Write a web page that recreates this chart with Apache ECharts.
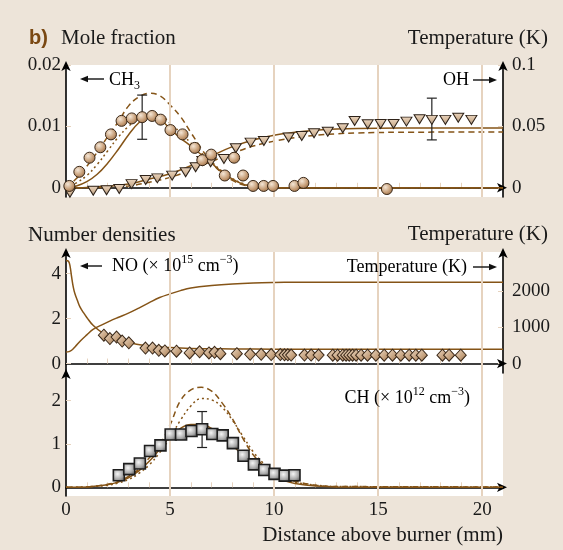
<!DOCTYPE html>
<html><head><meta charset="utf-8">
<script src="https://cdn.jsdelivr.net/npm/echarts@6/dist/echarts.min.js"></script>
<style>html,body{margin:0;padding:0;background:#ede4d9;}#c{width:563px;height:550px;}</style>
</head><body><div id="c"></div>
<script>
// ---------- Panel 1: mole fractions ----------
const ch3X = [0.16,0.64,1.13,1.65,2.16,2.67,3.16,3.66,4.14,4.55,5.02,5.6,6.19,6.55,6.98,7.63,8.08,8.51,8.99,9.5,9.95,10.98,11.41,15.42];
const ch3Y = [0.0003,0.0026,0.0049,0.0066,0.0087,0.0109,0.0113,0.0115,0.0117,0.0111,0.0094,0.0087,0.0065,0.0045,0.0054,0.0020,0.0049,0.0020,0.0003,0.0003,0.0003,0.0003,0.0008,-0.0002];
const ch3Err = [[3.66,0.0079,0.0151]];
const ohX = [0.19,1.31,1.95,2.56,3.15,3.83,4.39,5.10,5.75,6.23,6.55,6.95,7.59,8.16,8.87,9.51,10.7,11.33,11.92,12.58,13.3,13.87,14.5,15.12,15.74,16.36,16.99,17.58,18.23,18.85,19.48];
const ohY = [-0.004,-0.0024,-0.002,-0.001,0.003,0.0064,0.0077,0.0099,0.0126,0.0167,0.0218,0.0208,0.0235,0.0322,0.0368,0.0381,0.041,0.0422,0.0444,0.0457,0.0485,0.0544,0.0517,0.052,0.052,0.0539,0.0558,0.0553,0.0553,0.0571,0.0553];
const ohErr = [[17.58,0.039,0.073]];
const ch3CurveX = [0,0.5,1,1.5,2,2.5,3,3.5,4,4.5,5,5.5,6,6.5,7,7.5,8,8.5,9,10,21];
const ch3Dashed = [0,0.0015,0.0035,0.0058,0.0083,0.0107,0.0133,0.0148,0.0154,0.0150,0.0135,0.0116,0.0090,0.0064,0.0041,0.0024,0.0012,0.0005,0.0002,0,0];
const ch3Dotted = [0,0.0008,0.0020,0.0038,0.0060,0.0082,0.0100,0.0112,0.0118,0.0118,0.0105,0.0090,0.0073,0.0057,0.0042,0.0027,0.0015,0.0007,0.0002,0,0];
const ch3Solid  = [0,0.0003,0.0010,0.0022,0.0040,0.0062,0.0086,0.0106,0.0116,0.0112,0.0096,0.0081,0.0068,0.0054,0.0040,0.0025,0.0014,0.0006,0.0002,0,0];
const ohCurveX = [0,1,2,3,4,5,6,7,8,9,10,11,12,13,14,16,21];
const ohSolid  = [0,0.0003,0.0012,0.0030,0.0072,0.0115,0.0180,0.0260,0.0335,0.0390,0.0428,0.0452,0.0468,0.0478,0.0483,0.0486,0.0487];
const ohDashed = [0,0.0001,0.0005,0.0015,0.0045,0.0085,0.0145,0.0215,0.0280,0.0340,0.0380,0.0408,0.0427,0.0440,0.0447,0.0452,0.0455];

// ---------- Panel 2: NO and temperature ----------
const noX = [1.82,2.11,2.43,2.7,3.02,3.82,4.16,4.46,4.75,5.31,5.94,6.42,6.87,7.14,7.42,8.21,8.85,9.38,9.86,10.3,10.5,10.66,10.82,11.46,11.78,12.14,12.82,13.05,13.3,13.46,13.61,13.77,13.94,14.18,14.49,14.89,15.29,15.69,16.09,16.49,16.81,17.1,18.09,18.41,18.97];
const noY = [1.26,1.11,1.18,1.0,0.92,0.69,0.69,0.59,0.56,0.55,0.47,0.52,0.47,0.50,0.44,0.44,0.41,0.41,0.40,0.40,0.39,0.39,0.38,0.38,0.38,0.38,0.37,0.37,0.37,0.37,0.37,0.37,0.37,0.37,0.37,0.37,0.37,0.37,0.37,0.37,0.37,0.37,0.37,0.37,0.37];
const noCurveX = [0,0.12,0.2,0.27,0.35,0.43,0.55,0.67,0.85,1.0,1.3,1.8,2.3,2.9,3.7,5,6,8,10,21];
const noCurve  = [4.58,4.55,4.3,3.85,3.4,3.1,2.8,2.52,2.25,2.05,1.7,1.33,1.12,0.96,0.81,0.71,0.67,0.65,0.64,0.64];
const tX = [0,0.15,0.3,0.45,0.7,1,1.3,1.7,2.1,2.5,3,3.5,4,4.5,5,5.5,6,7,8,9,10,11,12,14,17,21];
const tK = [320,330,380,470,630,790,940,1060,1170,1270,1390,1530,1680,1820,1920,2010,2080,2150,2195,2222,2235,2240,2242,2243,2243,2243];

// ---------- Panel 3: CH ----------
const chX = [2.54,3.04,3.55,4.04,4.54,5.03,5.53,6.03,6.54,7.03,7.53,8.02,8.53,9.03,9.53,10.02,10.51,10.98];
const chY = [0.28,0.42,0.55,0.84,0.97,1.22,1.22,1.30,1.34,1.23,1.20,1.02,0.73,0.53,0.40,0.31,0.27,0.28];
const chErr = [[6.54,0.92,1.75]];
const chCurveX = [0,1,2,2.5,3,3.5,4,4.5,5,5.5,6,6.5,7,7.5,8,8.5,9,9.5,10,10.5,11,12,13,21];
const chDashed = [0,0.01,0.07,0.13,0.25,0.42,0.68,0.98,1.44,2.0,2.25,2.31,2.22,1.95,1.58,1.13,0.75,0.5,0.31,0.2,0.14,0.05,0.02,0.01];
const chDotted = [0,0.01,0.05,0.1,0.18,0.32,0.52,0.8,1.15,1.55,1.88,2.05,2.02,1.85,1.55,1.18,0.82,0.55,0.34,0.2,0.12,0.05,0.02,0.01];
const chSolid  = [0,0.01,0.06,0.12,0.22,0.38,0.6,0.88,1.17,1.36,1.45,1.45,1.36,1.18,0.97,0.74,0.54,0.37,0.24,0.15,0.09,0.03,0.01,0];

const xLabels = [0,5,10,15,20];
const xGrid = [5,10,15,20];
const xMinor = [1,2,3,4,6,7,8,9,11,12,13,14,16,17,18,19];

const zip = (a,b) => a.map((v,i)=>[v,b[i]]);
const BROWN = '#855417';
const SERIF = '"Liberation Serif", "Times New Roman", serif';
const tan = '#e6d3bf';

const chart = echarts.init(document.getElementById('c'), null, {renderer:'canvas'});

function xAxis(gi, showLabels){
  return {type:'value', gridIndex:gi, min:0, max:21,  interval:5,
    axisLine:{show:true, lineStyle:{color:'#000', width:1.6}, symbol:['none','arrow'], symbolSize:[7,10], symbolOffset:[0,4]},
    axisTick:{show:true, inside:true, length:5, customValues:xMinor, lineStyle:{color:tan, width:1}},
    axisLabel:{show:showLabels, customValues:xLabels, fontFamily:SERIF, fontSize:19, color:'#1a1a1a', margin:5},
    splitLine:{show:false}};
}
function yAxis(gi, pos, min, max, labels, show){
  return {type:'value', gridIndex:gi, position:pos, min:min, max:max,
    axisLine:{show:show, onZero:false, lineStyle:{color:'#000', width:1.6}, symbol:['none','arrow'], symbolSize:[7,10], symbolOffset:[0,4]},
    axisTick:{show:show, inside:true, length:5, customValues:labels, lineStyle:{color:tan, width:1}},
    axisLabel:{show:show, customValues:labels, fontFamily:SERIF, fontSize:19, color:'#1a1a1a', margin: pos==='left'?5:9,
      formatter: v => String(v)},
    splitLine:{show:false}};
}
const gridLines = (xi, yi) => ({type:'line', xAxisIndex:xi, yAxisIndex:yi, data:[], showSymbol:false, silent:true, z:1,
  markLine:{silent:true, symbol:'none', animation:false, label:{show:false}, lineStyle:{color:tan, width:2, type:'solid'},
    data: xGrid.map(v=>({xAxis:v}))}});
const lineS = (xi, yi, data, type) => ({type:'line', xAxisIndex:xi, yAxisIndex:yi, data:data, showSymbol:false, smooth:0.4,
  silent:true, lineStyle:{color:BROWN, width:1.5, type:type}, z:2});
const circleFill = {type:'radial', x:0.38, y:0.35, r:0.75, colorStops:[{offset:0,color:'#f4e6d6'},{offset:0.6,color:'#c49a72'},{offset:1,color:'#8d6440'}]};
const diamondFill = {type:'linear', x:0, y:0, x2:1, y2:1, colorStops:[{offset:0,color:'#f0dfcc'},{offset:0.6,color:'#c4a07c'},{offset:1,color:'#8a6646'}]};
const triFill = {type:'linear', x:0, y:0, x2:0, y2:1, colorStops:[{offset:0,color:'#9d8f84'},{offset:0.5,color:'#d6b99a'},{offset:1,color:'#e8d4bf'}]};
const squareFill = {type:'radial', x:0.4, y:0.4, r:0.7, colorStops:[{offset:0,color:'#f5f5f5'},{offset:0.6,color:'#a8a8a8'},{offset:1,color:'#5a5a5a'}]};

function errSeries(xi, yi, data){
  return {type:'custom', xAxisIndex:xi, yAxisIndex:yi, data:data, z:4, silent:true,
    renderItem:(params, api)=>{
      const x = api.value(0), lo = api.value(1), hi = api.value(2);
      const p1 = api.coord([x, lo]), p2 = api.coord([x, hi]);
      const c = 5;
      const st = {stroke:'#222', lineWidth:1.2};
      return {type:'group', children:[
        {type:'line', shape:{x1:p1[0], y1:p1[1], x2:p2[0], y2:p2[1]}, style:st},
        {type:'line', shape:{x1:p1[0]-c, y1:p1[1], x2:p1[0]+c, y2:p1[1]}, style:st},
        {type:'line', shape:{x1:p2[0]-c, y1:p2[1], x2:p2[0]+c, y2:p2[1]}, style:st}]};
    }};
}

const T = (x,y,text,opts={}) => ({type:'text', x:x, y:y, z:100, style:Object.assign({text:text, fill:'#1a1a1a', font:'21px '+SERIF, textVerticalAlign:'middle'}, opts)});
const richBase = {n:{fontFamily:SERIF, fontSize:18, color:'#1a1a1a', lineHeight:24, verticalAlign:'middle'},
  sup:{fontFamily:SERIF, fontSize:12, color:'#1a1a1a', verticalAlign:'top'},
  sub:{fontFamily:SERIF, fontSize:12, color:'#1a1a1a', verticalAlign:'bottom'}};
// decorative pointer arrows beside the annotations
const arrow = (x1, x2, y) => {
  const dir = x2 > x1 ? 1 : -1;
  return [
    {type:'line', z:101, shape:{x1:x1, y1:y, x2:x2 - dir*6, y2:y}, style:{stroke:'#111', lineWidth:1.4, lineDash:null}},
    {type:'polygon', z:101, shape:{points:[[x2,y],[x2-dir*8,y-3.2],[x2-dir*8,y+3.2]]}, style:{fill:'#111'}}];
};

chart.setOption({
  backgroundColor:'#ede4d9',
  animation:false,
  grid:[
    {left:66, right:60, top:65, height:132, show:true, backgroundColor:'#fff', borderWidth:0},
    {left:66, right:60, top:252, height:121, show:true, backgroundColor:'#fff', borderWidth:0},
    {left:66, right:60, top:373, height:123, show:true, backgroundColor:'#fff', borderWidth:0}
  ],
  xAxis:[xAxis(0,false), xAxis(1,false), xAxis(2,true)],
  yAxis:[
    yAxis(0,'left',-0.0015,0.02,[0,0.01,0.02],true),
    yAxis(0,'right',-0.0075,0.1,[0,0.05,0.1],true),
    yAxis(1,'left',-0.42,4.96,[0,2,4],true),
    yAxis(1,'right',-260,3075,[0,1000,2000],true),
    yAxis(2,'left',-0.2,2.64,[0,1,2],true)
  ],
  series:[
    gridLines(0,0), gridLines(1,2), gridLines(2,4),
    lineS(0,0,zip(ch3CurveX,ch3Dashed),[6,4]),
    lineS(0,0,zip(ch3CurveX,ch3Dotted),[2,3]),
    lineS(0,0,zip(ch3CurveX,ch3Solid),'solid'),
    lineS(0,1,zip(ohCurveX,ohSolid),'solid'),
    lineS(0,1,zip(ohCurveX,ohDashed),[6,4]),
    errSeries(0,0,ch3Err),
    errSeries(0,1,ohErr),
    {type:'scatter', xAxisIndex:0, yAxisIndex:1, data:zip(ohX,ohY), symbol:'triangle', symbolRotate:180, symbolSize:[11,9], z:5,
      itemStyle:{color:triFill, borderColor:'#2e2218', borderWidth:1, opacity:1}},
    {type:'scatter', xAxisIndex:0, yAxisIndex:0, data:zip(ch3X,ch3Y), symbol:'circle', symbolSize:11, z:6,
      itemStyle:{color:circleFill, borderColor:'#3a2818', borderWidth:1, opacity:1}},
    lineS(1,2,zip(noCurveX,noCurve),'solid'),
    lineS(1,3,zip(tX,tK),'solid'),
    {type:'scatter', xAxisIndex:1, yAxisIndex:2, data:zip(noX,noY), symbol:'diamond', symbolSize:[11,12], z:5,
      itemStyle:{color:diamondFill, borderColor:'#3a2818', borderWidth:1, opacity:1}},
    lineS(2,4,zip(chCurveX,chDashed),[6,4]),
    lineS(2,4,zip(chCurveX,chDotted),[2,3]),
    lineS(2,4,zip(chCurveX,chSolid),'solid'),
    {type:'scatter', xAxisIndex:2, yAxisIndex:4, data:zip(chX,chY), symbol:'rect', symbolSize:11, z:5,
      itemStyle:{color:squareFill, borderColor:'#1e1e1e', borderWidth:1.6, opacity:1}},
    errSeries(2,4,chErr)
  ],
  graphic:[
    {type:'text', x:29, y:38, z:100, style:{text:'b)', fill:'#7a4812', font:'bold 20px "Liberation Sans", Arial, sans-serif', textVerticalAlign:'middle'}},
    T(61,38,'Mole fraction'),
    T(548,38,'Temperature (K)',{textAlign:'right'}),
    T(28,235,'Number densities'),
    T(548,234,'Temperature (K)',{textAlign:'right'}),
    ...arrow(104,80,79),
    {type:'text', x:109, y:80, z:100, style:{text:'{n|CH}{sub|3}', rich:richBase, textVerticalAlign:'middle'}},
    {type:'text', x:443, y:80, z:100, style:{text:'{n|OH}', rich:richBase, textVerticalAlign:'middle'}},
    ...arrow(473,497,80),
    ...arrow(102,80,266),
    {type:'text', x:112, y:266, z:100, style:{text:'{n|NO (× 10}{sup|15}{n| cm}{sup|−3}{n|)}', rich:richBase, textVerticalAlign:'middle'}},
    {type:'text', x:467, y:267, z:100, style:{text:'{n|Temperature (K)}', rich:richBase, textAlign:'right', textVerticalAlign:'middle'}},
    ...arrow(473,497,267),
    {type:'text', x:470, y:398, z:100, style:{text:'{n|CH (× 10}{sup|12}{n| cm}{sup|−3}{n|)}', rich:richBase, textAlign:'right', textVerticalAlign:'middle'}},
    T(503,535,'Distance above burner (mm)',{textAlign:'right'})
  ]
});
</script></body></html>
